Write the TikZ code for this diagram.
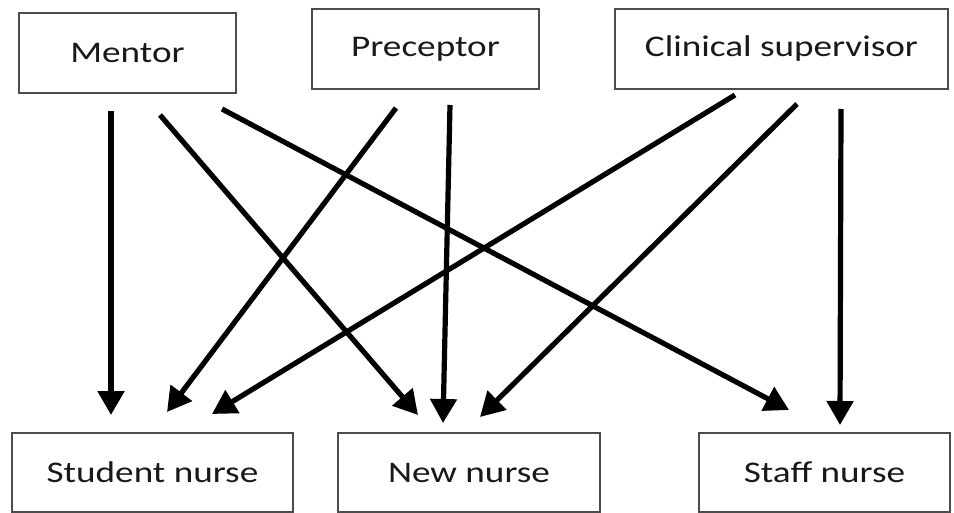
\documentclass[tikz,border=0pt]{standalone}
\usepackage{fontspec}
\setmainfont{Carlito}[FakeStretch=1.24]
\usetikzlibrary{arrows.meta}
\begin{document}
\begin{tikzpicture}[x=1pt,y=-1pt,
  role/.style={draw=black!70, line width=2pt, fill=white, inner sep=0pt,
    font=\fontsize{30}{34}\selectfont, text=black!90},
  link/.style={line width=5.2pt, black,
    -{Triangle[length=24pt,width=26pt]}}]
  \useasboundingbox (0,0) rectangle (954,513);
  \begin{scope}
  \clip (0,0) rectangle (954,513);
  % Roles that give guidance
  \node[role, minimum width=217pt, minimum height=80pt] (mentor) at (127.5,53) {Mentor};
  \node[role, minimum width=227pt, minimum height=80pt] (precep) at (425.5,49) {Preceptor};
  \node[role, minimum width=333pt, minimum height=80pt] (clin)   at (781.5,49) {Clinical supervisor};
  % Roles that receive guidance
  \node[role, minimum width=281pt, minimum height=79pt] (student) at (152.5,472.5) {Student nurse};
  \node[role, minimum width=262pt, minimum height=79pt] (new)     at (469,472.5) {New nurse};
  \node[role, minimum width=251pt, minimum height=79pt] (staff)   at (824.5,472.5) {Staff nurse};
  \end{scope}
  % Free ends of the connectors
  \coordinate (m1) at (111,111);  \coordinate (m1e) at (111,415);
  \coordinate (m2) at (160,115);  \coordinate (m2e) at (418,415);
  \coordinate (m3) at (222,109);  \coordinate (m3e) at (789,410);
  \coordinate (p1) at (396,108);  \coordinate (p1e) at (167,412);
  \coordinate (p2) at (450,105);  \coordinate (p2e) at (443,423);
  \coordinate (c1) at (735,95);   \coordinate (c1e) at (212,414);
  \coordinate (c2) at (797,104);  \coordinate (c2e) at (480,417);
  \coordinate (c3) at (841,109);  \coordinate (c3e) at (840,425);
  % Mentor
  \draw[link] (m1) -- (m1e);
  \draw[link] (m2) -- (m2e);
  \draw[link] (m3) -- (m3e);
  % Preceptor
  \draw[link] (p1) -- (p1e);
  \draw[link] (p2) -- (p2e);
  % Clinical supervisor
  \draw[link] (c1) -- (c1e);
  \draw[link] (c2) -- (c2e);
  \draw[link] (c3) -- (c3e);
\end{tikzpicture}
\end{document}
